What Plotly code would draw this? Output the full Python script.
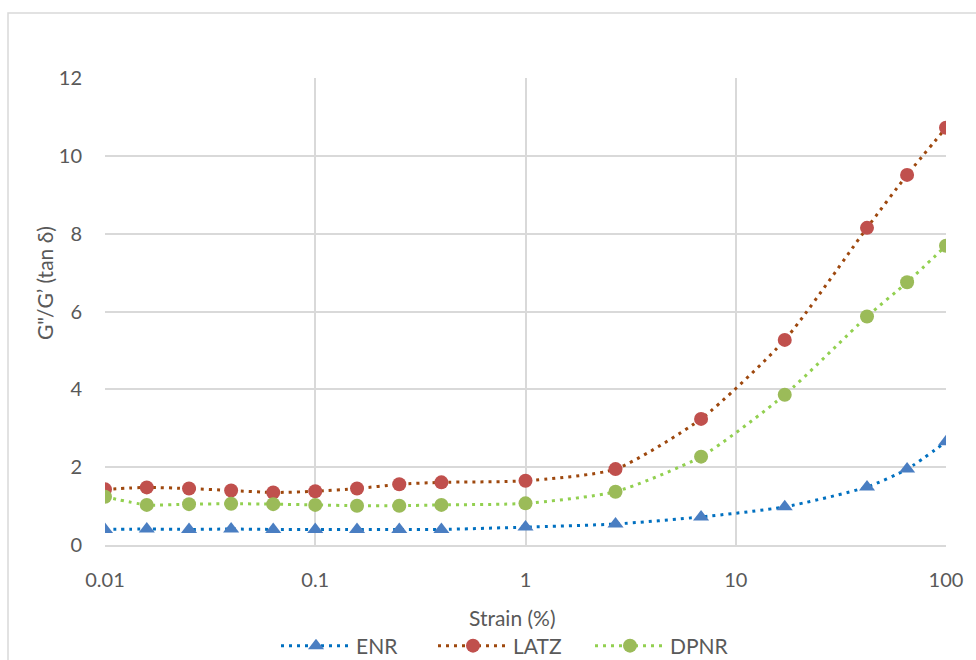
import plotly.graph_objects as go

strain = [0.01, 0.0158, 0.0251, 0.0398, 0.0631, 0.1, 0.158, 0.251, 0.398, 1.0,
          2.68, 6.84, 17.1, 42.1, 65.3, 100]
enr = [0.40, 0.41, 0.40, 0.41, 0.40, 0.40, 0.40, 0.40, 0.40, 0.46,
       0.54, 0.72, 0.98, 1.49, 1.95, 2.65]
latz = [1.43, 1.48, 1.45, 1.40, 1.35, 1.38, 1.45, 1.56, 1.61, 1.65,
        1.95, 3.24, 5.27, 8.15, 9.51, 10.72]
dpnr = [1.24, 1.03, 1.05, 1.06, 1.05, 1.03, 1.01, 1.01, 1.03, 1.07,
        1.37, 2.27, 3.86, 5.87, 6.75, 7.69]

FONT = "Lato"
GREY = "#595959"
W, H = 976, 660
L, R, T, B = 105, 30, 78, 115
PW, PH = W - L - R, H - T - B

fig = go.Figure()
series = [
    ("ENR", enr, "#0070C0", "#4A7EC2", "triangle-up", 14),
    ("LATZ", latz, "#9E480E", "#C0504D", "circle", 14),
    ("DPNR", dpnr, "#92D050", "#9BBB59", "circle", 14),
]
for name, vals, lc, mc, sym, ms in series:
    fig.add_trace(go.Scatter(
        x=strain, y=vals, name=name, mode="lines+markers",
        line=dict(color=lc, width=3, dash="3px,5px", shape="spline", smoothing=0.6),
        marker=dict(color=mc, symbol=sym, size=ms, line=dict(width=0)),
    ))

fig.update_layout(
    width=W, height=H,
    margin=dict(l=L, r=R, t=T, b=B, autoexpand=False),
    paper_bgcolor="white", plot_bgcolor="white",
    font=dict(family=FONT, color=GREY, size=19),
    showlegend=True,
    legend=dict(orientation="h", x=(276 - L) / PW, xanchor="left",
                yref="container", y=(H - 646) / H, yanchor="middle",
                font=dict(size=21, color=GREY), itemwidth=70,
                entrywidth=72, entrywidthmode="pixels", traceorder="normal"),
    xaxis=dict(type="log", range=[-2, 2], tickvals=[0.01, 0.1, 1, 10, 100],
               ticktext=["0.01", "0.1", "1", "10", "100"],
               showgrid=True, gridcolor="#D9D9D9", gridwidth=2,
               showline=True, linecolor="#D9D9D9", linewidth=2,
               ticks="", ticklabelstandoff=16, tickfont=dict(size=20, color=GREY),
               zeroline=False, automargin=False),
    yaxis=dict(range=[0, 12], dtick=2, showgrid=True, gridcolor="#D9D9D9", gridwidth=2,
               showline=False, ticks="", ticklabelstandoff=22, tickfont=dict(size=20, color=GREY),
               zeroline=False, automargin=False),
    annotations=[
        dict(text="Strain (%)", xref="paper", yref="paper",
             x=(512 - L) / PW, y=(H - B - 617) / PH, xanchor="center", yanchor="middle",
             showarrow=False, font=dict(size=21, color=GREY)),
        dict(text="G\"/G\u2019 (tan \u03b4)", xref="paper", yref="paper",
             x=(44 - L) / PW, y=(H - B - 283) / PH, xanchor="center", yanchor="middle",
             textangle=-90, showarrow=False, font=dict(size=21, color=GREY)),
    ],
    shapes=[dict(type="rect", xref="paper", yref="paper",
                 x0=(8 - L) / PW, x1=1.2, y0=-0.5, y1=(H - B - 13) / PH,
                 line=dict(color="#D9D9D9", width=1.5), fillcolor="rgba(0,0,0,0)", layer="below")],
)

fig.write_html("out.html")
